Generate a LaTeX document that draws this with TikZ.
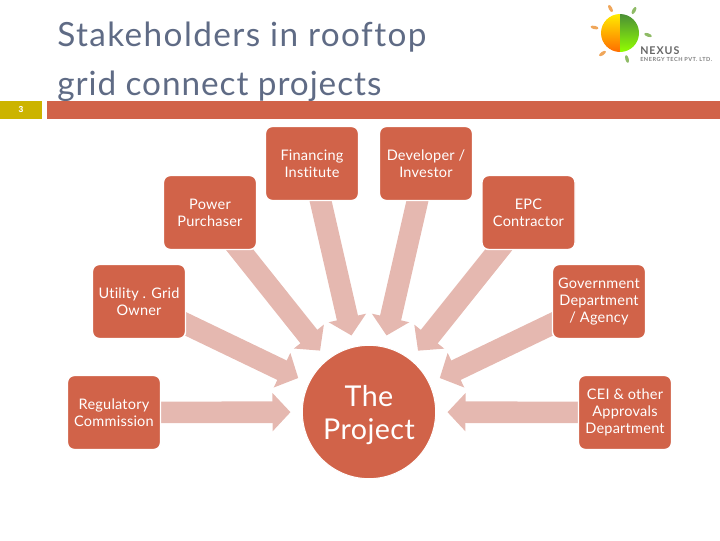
\documentclass[tikz,border=0pt]{standalone}
\usepackage{fontspec}
\setmainfont{Lato}
\newfontfamily\titlefont[LetterSpace=4.2,Ligatures=NoCommon]{Lato}
\newfontfamily\titlefontb[LetterSpace=2.8,Ligatures=NoCommon]{Lato}
\newfontfamily\boxfont[LetterSpace=1.5,Ligatures=NoCommon]{Lato}
\newfontfamily\logofont[LetterSpace=9,Ligatures=NoCommon]{Lato}
\newfontfamily\numfont{Liberation Sans}
\usetikzlibrary{arrows.meta,backgrounds,shadings,shapes.geometric}
\definecolor{boxred}{HTML}{D16349}
\definecolor{arrowpink}{HTML}{E5B8B0}
\definecolor{titleblue}{HTML}{5F6B85}
\definecolor{goldbar}{HTML}{CCB400}
\definecolor{leaforange}{HTML}{EFA65A}
\definecolor{leafgreen}{HTML}{8FBB66}
\tikzset{
  stakebox/.style={draw=white,line width=1.1pt,fill=boxred,rounded corners=5pt,text=white,
    minimum width=69.75pt,minimum height=55.5pt,inner sep=0pt,align=center,
    font=\boxfont\fontsize{10.9pt}{12.9pt}\selectfont},
  hub/.style={circle,fill=boxred,draw=white,line width=0.75pt,minimum size=100pt,inner sep=0pt,text=white,align=center,
    font=\boxfont\fontsize{21.5pt}{25pt}\selectfont},
  blockarrow/.style={draw=arrowpink,line width=16.2pt,shorten <=-14pt,shorten >=8.5pt,
    -{Triangle[length=13.5pt,width=28pt,fill=arrowpink]}},
  leaf/.style={ellipse,fill=#1,minimum width=6pt,minimum height=2.6pt,inner sep=0pt},
  titletext/.style={text=titleblue,anchor=base west,inner sep=0pt},
}
\begin{document}
\begin{tikzpicture}[x=0.75pt,y=-0.75pt]
\useasboundingbox (0,0) rectangle (720,540);
\node[titletext,font=\titlefont\fontsize{25pt}{30pt}\selectfont] (t1) at (57,46.5) {Stakeholders in rooftop};
\node[titletext,font=\titlefontb\fontsize{25pt}{30pt}\selectfont] (t2) at (57,95) {grid connect projects};
\fill[goldbar] (0,101) rectangle (42,119);
\fill[boxred] (46.5,101) rectangle (720,119);
\node[text=white,font=\numfont\fontsize{6.5pt}{8pt}\selectfont\bfseries] (num) at (21,110) {3};
% logo
\begin{scope}
\clip (590,0) rectangle (620,60);
\shade[top color=yellow!85!orange,bottom color=orange!85!red] (620,33) circle (19);
\end{scope}
\begin{scope}
\clip (620,0) rectangle (650,60);
\shade[top color=leafgreen!75!green!70!black,bottom color=lime!70!green!90!yellow] (620,33) circle (19);
\end{scope}
\node[leaf=leaforange,rotate=-62] (l1) at (610.5,8.5) {};
\node[leaf=leaforange,rotate=-12] (l2) at (594.5,27.5) {};
\node[leaf=leaforange,rotate=35] (l3) at (602.5,53.5) {};
\node[leaf=leafgreen,rotate=62] (l4) at (634,10.5) {};
\node[leaf=leafgreen,rotate=-20] (l5) at (648,35) {};
\node[leaf=leafgreen,rotate=-75] (l6) at (627,59) {};
\node[anchor=west,inner sep=0pt,text=black!60,font=\logofont\fontsize{8pt}{8pt}\selectfont\bfseries] (logoa) at (640,50.5) {NEXUS};
\node[anchor=west,inner sep=0pt,text=black!50,font=\logofont\fontsize{4.2pt}{5pt}\selectfont\bfseries] (logob) at (640,59.5) {ENERGY TECH PVT. LTD.};
% nodes
\node[hub] (p) at (369,412) {\rule{0pt}{20.5pt}The\\Project};
\node[stakebox] (a) at (114,412.5) {Regulatory\\Commission};
\node[stakebox] (b) at (139,301.5) {Utility . Grid\\Owner};
\node[stakebox] (c) at (210,212.5) {Power\\Purchaser};
\node[stakebox] (d) at (312,163.5) {Financing\\Institute};
\node[stakebox] (e) at (426,163.5) {Developer /\\Investor};
\node[stakebox] (f) at (528.5,212.5) {EPC\\Contractor};
\node[stakebox] (g) at (599,301.5) {Government\\Department\\/ Agency};
\node[stakebox] (h) at (625,412.5) {CEI \& other\\Approvals\\Department};
\begin{pgfonlayer}{background}
\foreach \n in {a,b,c,d,e,f,g,h} \draw[blockarrow] (\n) -- (p);
\end{pgfonlayer}
\end{tikzpicture}
\end{document}
